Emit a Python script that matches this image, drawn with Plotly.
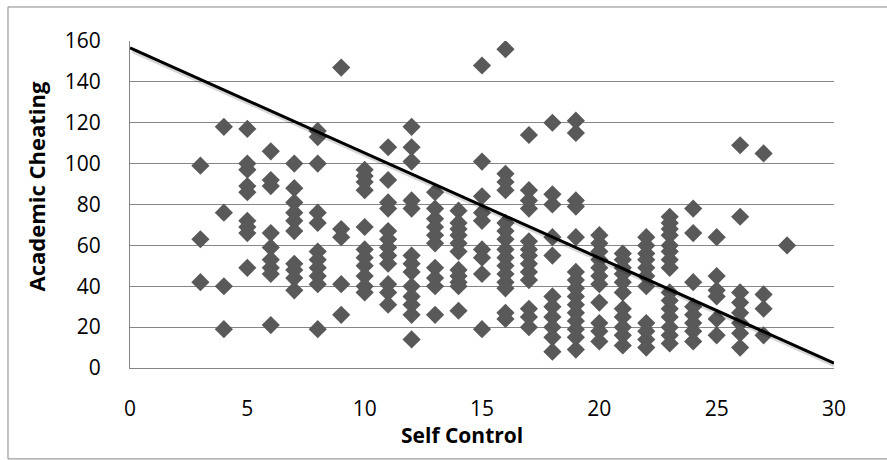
import plotly.graph_objects as go

# Self Control score (x) and Academic Cheating score (y), read column by column
self_control = (
    [3] * 3 + [4] * 4 + [5] * 9 + [6] * 9 + [7] * 10 + [8] * 11 + [9] * 5 + [10] * 11
    + [11] * 12 + [12] * 13 + [13] * 10 + [14] * 11 + [15] * 9 + [16] * 15 + [17] * 13
    + [18] * 11 + [19] * 15 + [20] * 11 + [21] * 11 + [22] * 11 + [23] * 15 + [24] * 8
    + [25] * 6 + [26] * 8 + [27] * 4 + [28] * 1
)
academic_cheating = [
    99, 63, 42,
    118, 76, 40, 19,
    117, 100, 97, 89, 86, 72, 69, 66, 49,
    106, 92, 89, 66, 59, 53, 49, 46, 21,
    100, 88, 81, 76, 72, 67, 51, 48, 44, 38,
    116, 113, 100, 76, 71, 57, 53, 49, 45, 41, 19,
    147, 68, 64, 41, 26,
    97, 94, 91, 87, 69, 58, 54, 50, 45, 40, 37,
    108, 92, 81, 78, 67, 63, 59, 55, 51, 41, 37, 31,
    118, 108, 101, 82, 78, 55, 51, 47, 40, 35, 31, 26, 14,
    86, 78, 73, 69, 65, 61, 49, 44, 40, 26,
    77, 71, 68, 65, 61, 57, 48, 45, 42, 40, 28,
    148, 101, 84, 76, 72, 58, 54, 46, 19,
    156, 95, 91, 87, 71, 67, 63, 58, 54, 50, 46, 42, 39, 27, 24,
    114, 87, 82, 78, 62, 58, 55, 51, 47, 43, 29, 25, 20,
    120, 85, 80, 64, 55, 35, 30, 25, 20, 15, 8,
    121, 115, 82, 79, 64, 47, 43, 39, 35, 31, 27, 23, 19, 15, 9,
    65, 61, 57, 53, 49, 45, 41, 32, 22, 18, 13,
    56, 53, 49, 46, 42, 37, 29, 25, 20, 16, 11,
    64, 60, 56, 53, 49, 45, 40, 22, 18, 14, 10,
    74, 71, 68, 65, 60, 57, 53, 49, 37, 33, 29, 25, 20, 16, 12,
    78, 66, 42, 30, 26, 22, 18, 13,
    64, 45, 38, 35, 24, 16,
    109, 74, 37, 32, 27, 22, 17, 10,
    105, 36, 29, 16,
    60,
]

# Linear trendline (as drawn in the reference)
trend_intercept = 156.6
trend_slope = -5.14
trend_x = [0, 30]
trend_y = [trend_intercept + trend_slope * v for v in trend_x]

x_ticks = [0, 5, 10, 15, 20, 25, 30]
y_ticks = [0, 20, 40, 60, 80, 100, 120, 140, 160]
x_title = "Self Control"
y_title = "Academic Cheating"

GRID = "#868686"
FONT = "Open Sans"

fig = go.Figure()
fig.add_trace(go.Scatter(
    x=self_control, y=academic_cheating, mode="markers",
    marker=dict(symbol="diamond", size=14, color="#595959", line=dict(width=0)),
    showlegend=False, hoverinfo="x+y",
))
# soft shadow under the trendline
fig.add_trace(go.Scatter(
    x=[v + 0.12 for v in trend_x], y=[v - 1.3 for v in trend_y], mode="lines",
    line=dict(color="rgba(0,0,0,0.16)", width=5), showlegend=False, hoverinfo="skip",
))
fig.add_trace(go.Scatter(
    x=trend_x, y=trend_y, mode="lines",
    line=dict(color="black", width=3), showlegend=False, hoverinfo="skip",
))

fig.update_layout(
    width=887, height=460,
    margin=dict(l=130, r=53, t=41, b=92),
    paper_bgcolor="white", plot_bgcolor="white",
    font=dict(family=FONT, color="black"),
    xaxis=dict(
        range=[0, 30], tickvals=x_ticks, ticktext=[str(v) for v in x_ticks],
        showgrid=False, zeroline=False, showline=True, linecolor=GRID, linewidth=1,
        ticks="", tickfont=dict(size=21, family=FONT), ticklabelstandoff=22,
    ),
    yaxis=dict(
        range=[0, 160], tickvals=y_ticks, ticktext=[str(v) for v in y_ticks],
        showgrid=True, gridcolor=GRID, gridwidth=1, zeroline=False,
        showline=True, linecolor=GRID, linewidth=1,
        ticks="", tickfont=dict(size=21, family=FONT), ticklabelstandoff=24,
    ),
    annotations=[
        dict(text="<b>%s</b>" % x_title, xref="paper", yref="paper",
             x=0.4716, y=-0.204, xanchor="center", yanchor="middle",
             showarrow=False, font=dict(size=21, family=FONT, color="black")),
        dict(text="<b>%s</b>" % y_title, xref="paper", yref="paper",
             x=-0.134, y=0.557, xanchor="center", yanchor="middle", textangle=-90,
             showarrow=False, font=dict(size=22, family=FONT, color="black")),
    ],
    shapes=[dict(
        type="rect", xref="paper", yref="paper",
        x0=-0.1733, x1=1.09, y0=-0.278, y1=1.104,
        line=dict(color=GRID, width=1), fillcolor="rgba(0,0,0,0)", layer="below",
    )],
)

fig.write_html("out.html")
